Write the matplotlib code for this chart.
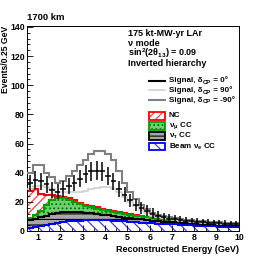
import numpy as np
import matplotlib
matplotlib.use("Agg")
import matplotlib.pyplot as plt
from matplotlib.patches import Rectangle
from matplotlib.lines import Line2D

plt.rcParams['font.family'] = ['Liberation Sans', 'DejaVu Sans']
plt.rcParams['font.weight'] = 'bold'
plt.rcParams['mathtext.fontset'] = 'custom'
plt.rcParams['mathtext.rm'] = 'Liberation Sans:bold'
plt.rcParams['mathtext.it'] = 'Liberation Sans:bold'
plt.rcParams['mathtext.bf'] = 'Liberation Sans:bold'
plt.rcParams['hatch.linewidth'] = 0.8

# bin edges: 0.5 .. 10 GeV in 0.25 GeV steps
edges = np.arange(0.5, 10.001, 0.25)

# background components (events per bin)
bkg_nue = [1.8, 2.5, 3.3, 4.0, 4.8, 5.5, 6.2, 6.7, 7.0, 7.2, 7.4, 7.5, 7.5, 7.4, 7.3, 7.1, 6.9, 6.7, 6.4,
           6.1, 5.8, 5.5, 5.3, 5.1, 4.9, 4.7, 4.5, 4.3, 4.1, 3.9, 3.7, 3.5, 3.3, 3.1, 3.0, 2.8, 2.7, 2.5]
bkg_nutau = [5.7, 6.0, 6.2, 6.5, 6.7, 6.8, 6.6, 6.3, 6.0, 5.6, 5.1, 4.6, 4.2, 3.8, 3.4, 3.1, 2.8, 2.5, 2.3,
             2.2, 2.1, 2.0, 1.8, 1.7, 1.6, 1.5, 1.4, 1.3, 1.2, 1.2, 1.2, 1.2, 1.2, 1.2, 1.1, 1.1, 1.0, 1.0]
bkg_numu = [1.5, 2.5, 4.5, 7.0, 9.5, 10.2, 9.7, 8.5, 7.0, 5.7, 4.7, 4.1, 3.7, 3.5, 3.3, 3.1, 2.9, 2.7, 2.5,
            2.3, 2.1, 1.9, 1.8, 1.6, 1.4, 1.3, 1.2, 1.1, 1.1, 1.0, 0.9, 0.8, 0.8, 0.7, 0.7, 0.7, 0.7, 0.7]
bkg_nc = [18.5, 17.8, 11.5, 7.5, 3.5, 1.5, 1.0, 1.0, 1.0, 1.0, 0.8, 0.8, 0.8, 0.7, 0.7, 0.7, 0.6, 0.6, 0.6,
          0.5, 0.5, 0.5, 0.4, 0.4, 0.4, 0.4, 0.3, 0.3, 0.3, 0.2, 0.2, 0.2, 0.2, 0.2, 0.2, 0.2, 0.2, 0.2]

# signal + background totals
total_dcp0 = [33, 35, 34, 32, 28, 27, 29, 31, 33, 36, 39, 41, 41.5, 41, 38, 34, 29, 25, 21,
              18, 16, 14, 12, 10.5, 9.5, 8.5, 8, 7.5, 7, 6.6, 6.3, 6.0, 5.8, 5.5, 5.3, 5.1, 4.9, 4.7]
total_dcp90 = [29, 31, 31, 30, 28.5, 27, 26.5, 26.5, 26.5, 27, 27.5, 28.5, 29.5, 30, 30, 29, 26.5, 23.5, 20,
               17, 14.5, 12.5, 10.5, 9.5, 8.7, 8, 7.5, 7.1, 6.8, 6.4, 6.1, 5.8, 5.6, 5.3, 5.1, 4.9, 4.7, 4.5]
total_dcpm90 = [40, 45, 45, 40, 37, 33, 34, 38, 41, 45, 49, 53, 55, 55, 53, 49, 41, 33, 27,
                22, 18, 15, 12.5, 11, 10, 9.3, 8.7, 8.2, 7.8, 7.4, 7.0, 6.7, 6.4, 6.1, 5.9, 5.7, 5.5, 5.3]

W, H = 266, 258
fig = plt.figure(figsize=(W / 100, H / 100), dpi=100)
ax = fig.add_axes([27 / W, 1 - 231 / H, 212 / W, 205.5 / H])

c1 = np.array(bkg_nue)
c2 = c1 + np.array(bkg_nutau)
c3 = c2 + np.array(bkg_numu)
c4 = c3 + np.array(bkg_nc)

styles = [
    (np.zeros_like(c1), c1, 'white', '#3030e8', '\\\\\\', '#0000ff'),
    (c1, c2, '#a8a8a8', '#000000', '---', '#000000'),
    (c2, c3, '#70d070', '#007000', '....', '#00a000'),
    (c3, c4, 'white', '#ff3030', '////', '#ff0000'),
]
for base, top, fc, hc, hatch, lc in styles:
    ax.stairs(top, edges, baseline=base, fill=True, facecolor=fc, edgecolor=hc,
              hatch=hatch, linewidth=0, zorder=1)
for base, top, fc, hc, hatch, lc in styles[::-1]:
    ax.stairs(top, edges, baseline=None, color=lc, linewidth=1.5, zorder=2)

ax.stairs(total_dcp90, edges, baseline=None, color='#d0d0d0', linewidth=1.2, zorder=3)
ax.stairs(total_dcpm90, edges, baseline=None, color='#808080', linewidth=1.5, zorder=3)

centers = 0.5 * (edges[:-1] + edges[1:])
d0 = np.array(total_dcp0)
ax.errorbar(centers, d0, xerr=0.125, yerr=np.sqrt(d0), fmt='none', ecolor='black',
            elinewidth=1.1, capsize=0, zorder=4)

ax.set_xlim(0.5, 10)
ax.set_ylim(0, 141)
ax.set_xticks(np.arange(1, 11, 1))
ax.set_xticks(np.arange(0.5, 10.01, 0.5), minor=True)
ax.set_yticks(np.arange(0, 141, 20))
ax.set_yticks(np.arange(0, 141, 4), minor=True)
ax.tick_params(which='both', direction='in', labelsize=6.3, pad=1.5)
ax.tick_params(which='major', length=4, width=0.6)
ax.tick_params(which='minor', length=2, width=0.6)
for s in ax.spines.values():
    s.set_linewidth(0.7)
for lab in ax.get_xticklabels() + ax.get_yticklabels():
    lab.set_fontweight('bold')

fig.text(27 / W, 1 - 17 / H, '1700 km', ha='left', va='center', fontsize=6.8, fontweight='bold')
fig.text(5.5 / W, 1 - 26 / H, 'Events/0.25 GeV', ha='center', va='top', rotation=90,
         fontsize=6.2, fontweight='bold')
fig.text(239 / W, 1 - 249.5 / H, 'Reconstructed Energy (GeV)', ha='right', va='center',
         fontsize=6.5, fontweight='bold')

info = ['175 kt-MW-yr LAr', 'ν mode', r'sin$^{2}$(2θ$_{13}$) = 0.09', 'Inverted hierarchy']
for i, t in enumerate(info):
    ax.text(0.476, 0.961 - i * 0.0485, t, transform=ax.transAxes, ha='left', va='center',
            fontsize=6.5, fontweight='bold')

line_entries = [
    ('black', 1.5, ' = 0°'),
    ('#d0d0d0', 1.2, ' = 90°'),
    ('#808080', 1.5, ' = -90°'),
]
ly = [0.730, 0.684, 0.637]
fs = 5.8
for (c, lw, t), y in zip(line_entries, ly):
    ax.add_line(Line2D([0.577, 0.650], [y, y], transform=ax.transAxes, color=c, lw=lw, zorder=6))
    t1 = ax.text(0.668, y, 'Signal, δ', transform=ax.transAxes, ha='left', va='center',
                 fontsize=fs, fontweight='bold')
    t2 = ax.annotate('CP', xy=(1, 0), xycoords=t1, xytext=(0.2, -0.6), textcoords='offset points',
                     ha='left', va='bottom', fontsize=4.2, fontweight='bold')
    ax.annotate(t, xy=(1, 0), xycoords=(t2, t1), ha='left', va='bottom',
                fontsize=fs, fontweight='bold')

patch_entries = [
    ('white', '#ff3030', '////', '#ff0000', 'NC'),
    ('#70d070', '#007000', '....', '#00a000', r'ν$_{\mu}$ CC'),
    ('#a8a8a8', '#000000', '---', '#000000', r'ν$_{\tau}$ CC'),
    ('white', '#3030e8', '\\\\\\', '#0000ff', r'Beam ν$_{e}$ CC'),
]
py = [0.560, 0.511, 0.462, 0.411]
for (fc, hc, hatch, lc, t), y in zip(patch_entries, py):
    ax.add_patch(Rectangle((0.577, y - 0.019), 0.073, 0.038, transform=ax.transAxes,
                           facecolor=fc, edgecolor=hc, hatch=hatch, lw=0, zorder=6))
    ax.add_patch(Rectangle((0.577, y - 0.019), 0.073, 0.038, transform=ax.transAxes,
                           facecolor='none', edgecolor=lc, lw=1.3, zorder=7))
    ax.text(0.668, y, t, transform=ax.transAxes, ha='left', va='center', fontsize=5.8, fontweight='bold')

fig.savefig('out.png', dpi=100)
